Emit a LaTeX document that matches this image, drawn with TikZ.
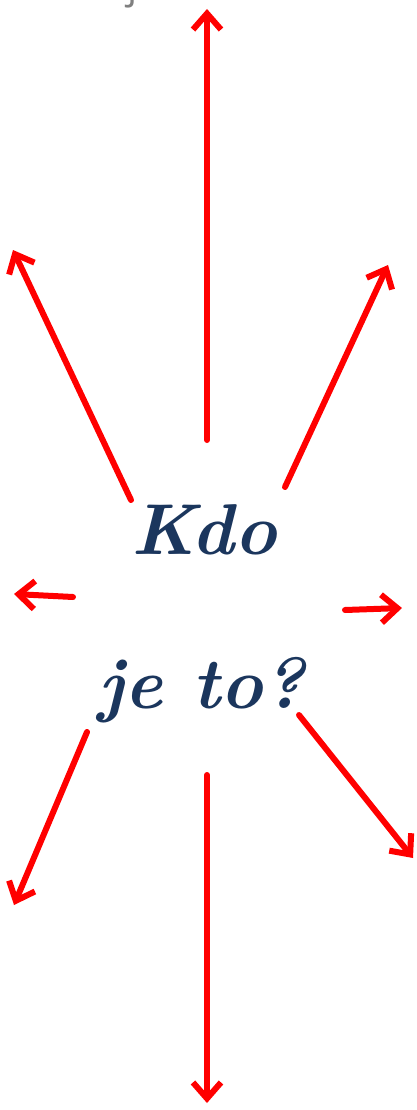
\documentclass[tikz,border=0pt]{standalone}
\usepackage{fontspec}
\newfontfamily\headfont{Open Sans}
\usetikzlibrary{arrows.meta}
\definecolor{cred}{HTML}{FF0000}
\definecolor{cnavy}{HTML}{1B365D}
\definecolor{cgrey}{HTML}{808080}
\tikzset{
  ray/.style={-{Straight Barb[length=16pt, width=28pt, line width=6pt]}, draw=cred, line width=6pt, line cap=round},
  word/.style={font=\fontsize{72}{80}\selectfont\bfseries\itshape, text=cnavy, inner sep=0pt},
  head/.style={font=\headfont\fontsize{40}{44}\selectfont, text=cgrey, inner sep=0pt},
}

\begin{document}
\begin{tikzpicture}[x=1pt, y=-1pt]
  \useasboundingbox (0,0) rectangle (417,1110);
  \clip (0,0) rectangle (417,1110);
  % ---------- title, cut off at the top
  \node[head, anchor=base west] (title) at (44,-1) {Kdo je to?};
  % ---------- centre words
  \node[word] (kdo) at (204,530) {Kdo};
  \node[word] (jeto) at (202,690) {je to?};
  % ---------- ray ends
  \foreach \n/\sx/\sy/\ex/\ey in {n/207/440/207/9, nw/131/500/13/250, ne/285/487/388/265,
      w/73/597/14/594, e/345/610/402/608, sw/87/732/14/905, se/299/715/413/858, s/207/775/207/1103} {
    \coordinate (\n0) at (\sx,\sy);
    \coordinate (\n1) at (\ex,\ey);
  }
  \foreach \n in {n,nw,ne,w,e,sw,se,s} \draw[ray] (\n0) -- (\n1);
\end{tikzpicture}
\end{document}
